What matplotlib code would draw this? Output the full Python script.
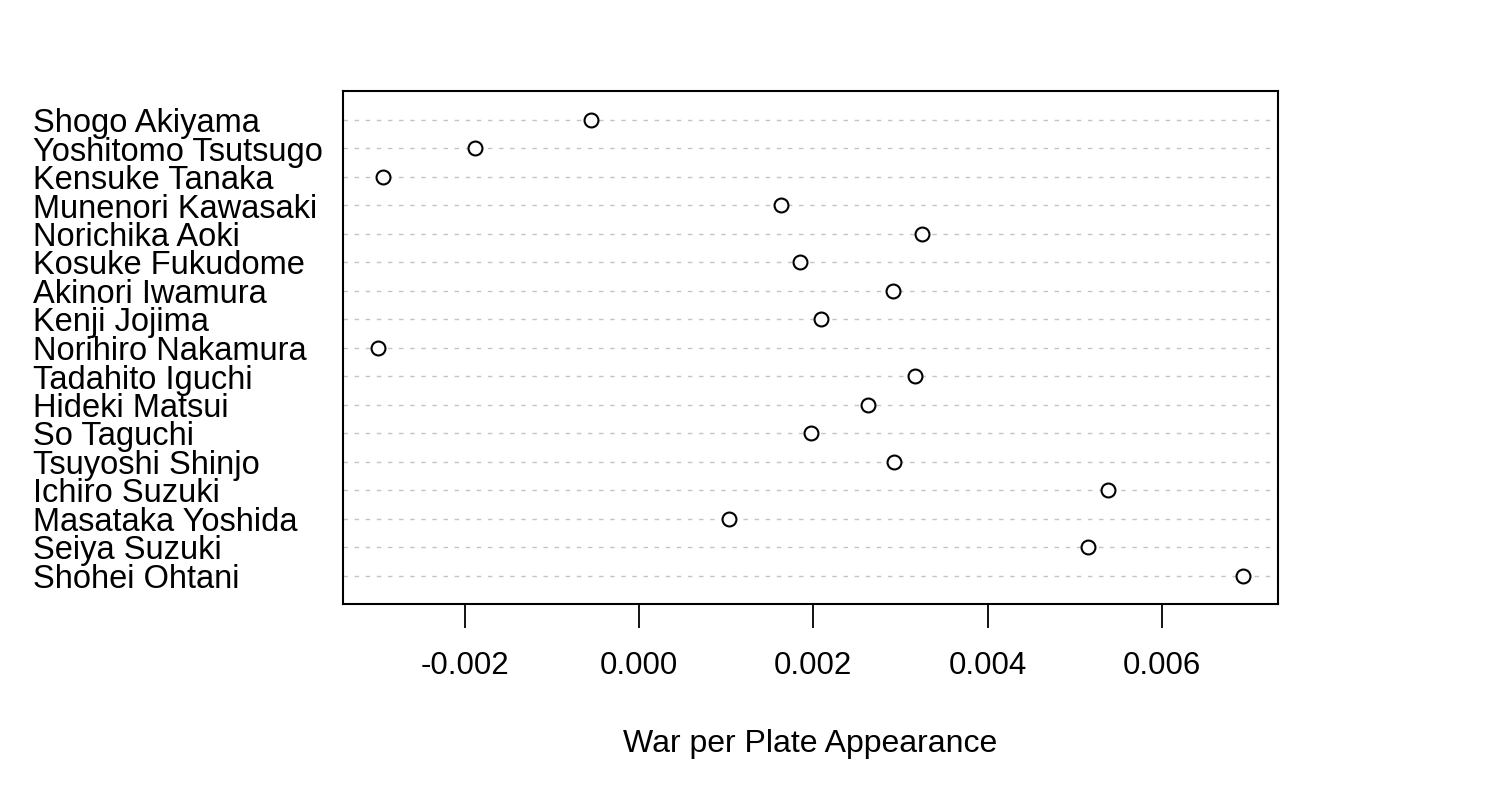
import matplotlib
matplotlib.use("Agg")
import matplotlib.pyplot as plt
import matplotlib.transforms as mtransforms

players = [
    "Shogo Akiyama", "Yoshitomo Tsutsugo", "Kensuke Tanaka", "Munenori Kawasaki",
    "Norichika Aoki", "Kosuke Fukudome", "Akinori Iwamura", "Kenji Jojima",
    "Norihiro Nakamura", "Tadahito Iguchi", "Hideki Matsui", "So Taguchi",
    "Tsuyoshi Shinjo", "Ichiro Suzuki", "Masataka Yoshida", "Seiya Suzuki",
    "Shohei Ohtani",
]
war_per_pa = [
    -0.000546, -0.001882, -0.002941, 0.001629,
    0.003252, 0.001847, 0.002911, 0.002085,
    -0.002998, 0.003172, 0.002632, 0.001970,
    0.002923, 0.005386, 0.001029, 0.005152,
    0.006935,
]
x_ticks = [-0.002, 0.000, 0.002, 0.004, 0.006]
x_tick_labels = ["-0.002", "0.000", "0.002", "0.004", "0.006"]
x_label = "War per Plate Appearance"

plt.rcParams["font.family"] = ["Liberation Sans", "DejaVu Sans"]

W, H = 1486, 800
fig = plt.figure(figsize=(W / 100, H / 100), dpi=100)
left, right, top, bottom = 343, 1278, 91, 604
ax = fig.add_axes([left / W, 1 - bottom / H, (right - left) / W, (bottom - top) / H])

n = len(players)
ys = [n - i for i in range(n)]

for y in ys:
    ax.axhline(y, color="#c4c4c4", lw=1.0, linestyle=(0, (3.2, 4.8)), zorder=1)

ax.plot(war_per_pa, ys, linestyle="none", marker="o", markersize=10,
        markerfacecolor="white", markeredgecolor="black", markeredgewidth=1.5, zorder=3)

ax.margins(x=0.04)
ax.set_ylim(0, n + 1)
ax.set_yticks([])
ax.set_xticks(x_ticks)
ax.set_xticklabels(x_tick_labels, fontsize=22.5)
ax.tick_params(axis="x", length=17, width=1.3, pad=17, color="black")

for sp in ax.spines.values():
    sp.set_linewidth(1.5)

trans = mtransforms.blended_transform_factory(fig.transFigure, ax.transData)
trans = trans + mtransforms.ScaledTranslation(0, -4 / 100, fig.dpi_scale_trans)
for name, y in zip(players, ys):
    ax.text(33 / W, y, name, transform=trans, ha="left", va="center",
            fontsize=23.5, clip_on=False)

ax.set_xlabel(x_label, fontsize=23)
ax.xaxis.set_label_coords(0.5, -(744 - bottom) / (bottom - top))
ax.xaxis.label.set_va("center")

fig.savefig("out.png", dpi=100, facecolor="white")
